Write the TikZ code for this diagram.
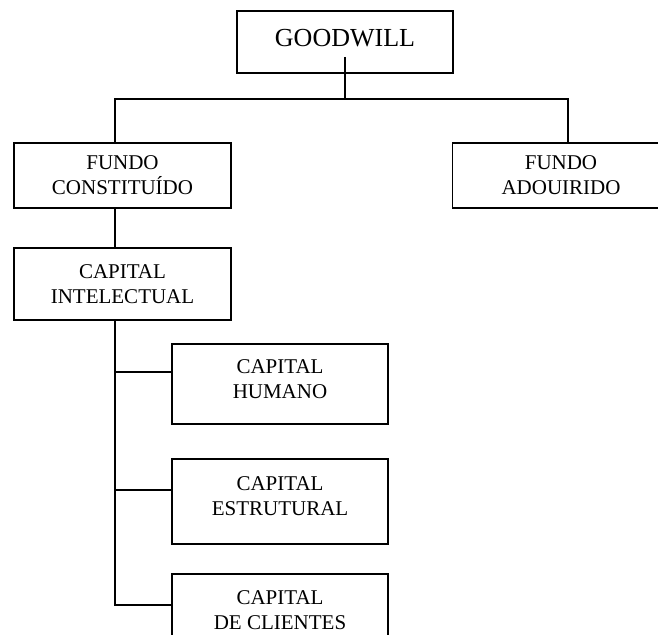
\documentclass[tikz,border=0pt]{standalone}
\usepackage{fontspec}
\setmainfont{Liberation Serif}
\usetikzlibrary{positioning}
\tikzset{
  topbox/.style={rectangle, draw, line width=1.4pt, minimum width=216pt,
                 minimum height=62pt, inner sep=0pt, text depth=8pt,
                 font=\fontsize{26}{30}\selectfont},
  unitbox/.style={rectangle, draw, line width=1.4pt, minimum width=217pt,
                  inner sep=0pt, align=center,
                  font=\fontsize{21}{25}\selectfont},
  subbox/.style={unitbox, minimum width=216pt, text depth=10pt},
  link/.style={line width=2pt},
  trunk/.style={line width=2.6pt},
}

\begin{document}
\begin{tikzpicture}[x=1pt, y=-1pt]
  \useasboundingbox (0,0) rectangle (658,634);
  \clip (0,0) rectangle (658,634);

  \node [topbox] (goodwill) at (345,42) {GOODWILL};

  \node [unitbox, minimum height=65pt] (fc) at (122.5,175.5) {FUNDO\\CONSTITUÍDO};
  \node [unitbox, minimum height=65pt] (fa) at (561,175.5) {FUNDO\\ADOUIRIDO};
  \node [unitbox, minimum height=72pt] (ci) at (122.5,284) {CAPITAL\\INTELECTUAL};

  \node [subbox, minimum height=80pt] (ch) at (280,384) {CAPITAL\\HUMANO};
  \node [subbox, minimum height=85pt] (ce) at (280,501.5) {CAPITAL\\ESTRUTURAL};
  \node [subbox, minimum height=86pt, text depth=14pt] (cc) at (280,617) {CAPITAL\\DE CLIENTES};

  % bus under goodwill
  \coordinate (busL) at (115,99);
  \coordinate (busR) at (568,99);
  \draw [link] ([yshift=-15pt]goodwill.center) -- (goodwill.center |- busL);
  \draw [link] (fc.north -| busL) |- (busR) -- (fa.north -| busR);

  % fundo constituido -> capital intelectual
  \draw [trunk] (fc.south -| busL) -- (ci.north -| busL);

  % spine and branches
  \draw [trunk] (ci.south -| busL) |- ([yshift=12pt]cc.west);
  \foreach \n in {ch,ce}
    \draw [link] ([yshift=12pt]\n.west) -| (ci.south -| busL);
\end{tikzpicture}
\end{document}
